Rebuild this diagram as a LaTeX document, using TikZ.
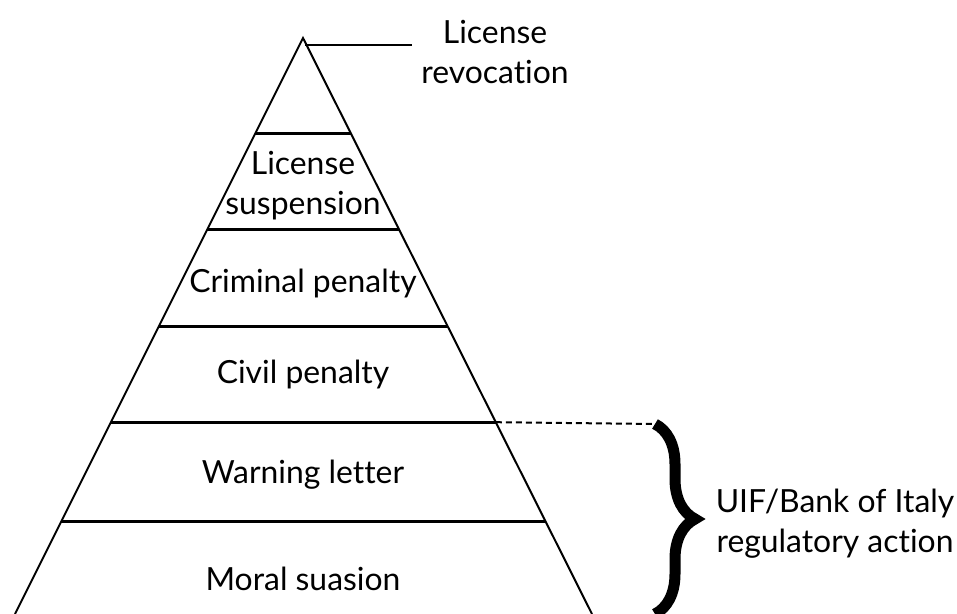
\documentclass[tikz,border=0pt]{standalone}
\usepackage{fontspec}
\setmainfont{Lato}[Ligatures=NoCommon]
\usetikzlibrary{calc,decorations.pathreplacing}

\begin{document}
\begin{tikzpicture}[x=1bp,y=-1bp,
  every node/.style={font=\fontsize{32}{40}\selectfont,align=center},
  level/.style={line width=3bp},
  side/.style={line width=2bp}]
 \useasboundingbox (0,0) rectangle (957,614);
 \coordinate (apex) at (303,38);
 \coordinate (bl) at (15,614);
 \coordinate (br) at (592,614);
 \draw[side] (bl) -- (apex) -- (br);
 \foreach \t/\n in {0.165/1,0.333/2,0.5/3,0.667/4,0.84/5}
  \draw[level] ($(apex)!\t!(bl)$) coordinate (l\n) -- ($(apex)!\t!(br)$) coordinate (r\n);
 % layer labels
 \node (revoc) at (495,52) {License\\revocation};
 \node (susp) at (303,186) {License\\suspension};
 \node[anchor=base] (crim) at (303,292) {Criminal penalty};
 \node[anchor=base] (civil) at (303,383) {Civil penalty};
 \node[anchor=base] (warn) at (303,483) {Warning letter};
 \node[anchor=base] (moral) at (303,590) {Moral suasion};
 \coordinate (tag) at (305,45);
 \draw[side] (tag) -- (tag -| revoc.west) [shorten >=6bp];
 % regulator
 \coordinate (btop) at (655,424);
 \coordinate (bbot) at (655,614);
 \draw[side,dashed,dash pattern=on 6bp off 4bp] (r4) -- (btop);
 \draw[line width=11bp,decorate,decoration={brace,amplitude=40bp}] (btop) -- (bbot);
 \node (uif) at (835,524) {UIF/Bank of Italy\\regulatory action};
\end{tikzpicture}
\end{document}
